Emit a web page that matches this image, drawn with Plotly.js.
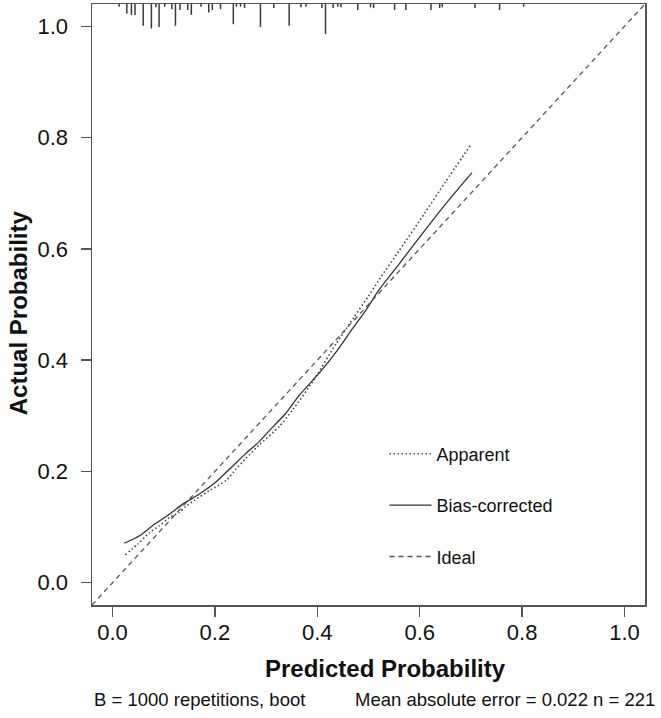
<!DOCTYPE html>
<html>
<head>
<meta charset="utf-8">
<script src="https://cdn.plot.ly/plotly-3.0.1.min.js"></script>
<style>
  html, body { margin: 0; padding: 0; background: #fff; }
  #plot { width: 661px; height: 718px; }
</style>
</head>
<body>
<div id="plot"></div>
<script>
// Calibration curve: predicted vs actual probability (bootstrap, B = 1000)

// Apparent calibration curve
const appX = [0.025, 0.05, 0.072, 0.091, 0.111, 0.13, 0.143, 0.16, 0.19, 0.222, 0.241, 0.26,
              0.287, 0.326, 0.352, 0.39, 0.437, 0.47, 0.50, 0.521, 0.56, 0.609, 0.65, 0.699];
const appY = [0.050, 0.070, 0.090, 0.102, 0.117, 0.126, 0.137, 0.148, 0.166, 0.184, 0.204, 0.223,
              0.248, 0.281, 0.311, 0.36, 0.43, 0.475, 0.515, 0.545, 0.597, 0.663, 0.72, 0.786];

// Bias-corrected calibration curve
const bcX = [0.023, 0.052, 0.082, 0.111, 0.14, 0.169, 0.202, 0.234, 0.26, 0.287, 0.306,
             0.339, 0.365, 0.404, 0.437, 0.469, 0.495, 0.521, 0.56, 0.609, 0.65, 0.702];
const bcY = [0.071, 0.084, 0.105, 0.123, 0.143, 0.159, 0.181, 0.209, 0.232, 0.254, 0.273,
             0.305, 0.337, 0.377, 0.415, 0.457, 0.49, 0.527, 0.573, 0.632, 0.68, 0.737];

// Distribution of predicted probabilities (spike heights, relative frequency)
const rugX = [0.013, 0.028, 0.037, 0.044, 0.060, 0.076, 0.085, 0.091, 0.102, 0.116, 0.123,
              0.132, 0.147, 0.154, 0.173, 0.188, 0.195, 0.211, 0.236, 0.242, 0.250, 0.258,
              0.289, 0.315, 0.345, 0.368, 0.378, 0.409, 0.416, 0.431, 0.440, 0.446, 0.479,
              0.504, 0.510, 0.551, 0.573, 0.622, 0.639, 0.644, 0.708, 0.756, 0.803];
const rugFreq = [1, 3.5, 4, 4, 8, 9, 1.2, 8.4, 1, 1.9, 8,
                 2.2, 2.2, 4, 1, 3.1, 2.2, 1.9, 7.4, 1, 1, 1.5,
                 8.4, 1.5, 8, 1.2, 1, 1.5, 11, 1.5, 1, 1.2, 2.2,
                 1.2, 1.5, 2.2, 2.2, 2.2, 1.5, 1.2, 1.5, 2.2, 1];

// Axis ticks
const tickVals = [0, 0.2, 0.4, 0.6, 0.8, 1.0];
const tickText = ['0.0', '0.2', '0.4', '0.6', '0.8', '1.0'];

// Footer text
const footLeft = 'B = 1000 repetitions, boot';
const footRight = 'Mean absolute error = 0.022 n = 221';

const axisRange = [-0.04, 1.04];
const spikeUnit = 0.0049;

// spikes hang down from the top edge of the frame
const spikeX = [], spikeY = [];
rugX.forEach((x, i) => {
  spikeX.push(x, x, null);
  spikeY.push(axisRange[1], axisRange[1] - rugFreq[i] * spikeUnit, null);
});

const FONT = 'Liberation Sans, Arial, sans-serif';

const traces = [
  {
    x: spikeX, y: spikeY, mode: 'lines', showlegend: false, hoverinfo: 'skip',
    line: { color: '#3a3a3a', width: 1.5 }
  },
  {
    x: appX, y: appY, mode: 'lines', name: 'Apparent', legendgroup: 'a',
    line: { color: '#444', width: 1.6, dash: '1.5px,2.5px', shape: 'spline', smoothing: 0.6 }
  },
  {
    x: bcX, y: bcY, mode: 'lines', name: 'Bias-corrected', legendgroup: 'b',
    line: { color: '#333', width: 1.3, shape: 'spline', smoothing: 0.6 }
  },
  {
    x: axisRange, y: axisRange, mode: 'lines', name: 'Ideal', legendgroup: 'c',
    line: { color: '#555', width: 1.3, dash: '5px,4px' }
  }
];

const axisCommon = {
  range: axisRange,
  tickvals: tickVals,
  ticktext: tickText,
  ticks: 'outside',
  ticklen: 10,
  tickwidth: 1.3,
  tickcolor: '#555',
  showline: true,
  linecolor: '#555',
  linewidth: 1.5,
  mirror: true,
  showgrid: false,
  zeroline: false,
  tickfont: { family: FONT, size: 22, color: '#111' }
};

const layout = {
  width: 661,
  height: 718,
  margin: { l: 92, r: 16, t: 4, b: 113 },
  paper_bgcolor: '#fff',
  plot_bgcolor: '#fff',
  xaxis: Object.assign({}, axisCommon, { ticklabelstandoff: -3 }),
  yaxis: Object.assign({}, axisCommon, { ticklabelstandoff: 8 }),
  showlegend: true,
  legend: {
    x: 0.529, y: 0.282, xanchor: 'left', yanchor: 'top',
    bgcolor: 'rgba(0,0,0,0)',
    font: { family: FONT, size: 18, color: '#111' },
    itemwidth: 42,
    tracegroupgap: 25,
    traceorder: 'grouped'
  },
  annotations: [
    {
      text: '<b>Predicted Probability</b>', xref: 'paper', yref: 'paper',
      x: 0.53, y: -0.105, xanchor: 'center', yanchor: 'middle', showarrow: false,
      font: { family: FONT, size: 24, color: '#111' }
    },
    {
      text: '<b>Actual Probability</b>', xref: 'paper', yref: 'paper',
      x: -0.134, y: 0.487, xanchor: 'center', yanchor: 'middle', showarrow: false,
      textangle: -90,
      font: { family: FONT, size: 24, color: '#111' }
    },
    {
      text: footLeft, xref: 'paper', yref: 'paper',
      x: 0, y: -0.158, xanchor: 'left', yanchor: 'middle', showarrow: false,
      font: { family: FONT, size: 18.5, color: '#111' }
    },
    {
      text: footRight, xref: 'paper', yref: 'paper',
      x: 1.022, y: -0.158, xanchor: 'right', yanchor: 'middle', showarrow: false,
      font: { family: FONT, size: 18.5, color: '#111' }
    }
  ]
};

Plotly.newPlot('plot', traces, layout, { displayModeBar: false, staticPlot: true });
</script>
</body>
</html>
